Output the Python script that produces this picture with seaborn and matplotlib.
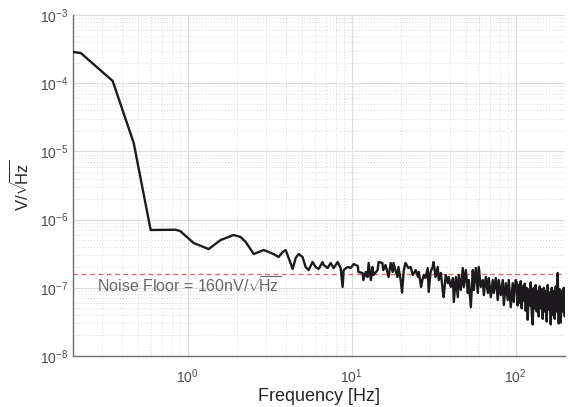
import numpy as np
import pandas as pd
import seaborn as sns
import matplotlib.pyplot as plt
from matplotlib.ticker import LogLocator, NullFormatter

# spectrum (Hz, V/sqrt(Hz))
freq_low = [0.20, 0.223, 0.349, 0.469, 0.595, 0.845, 0.90, 1.088, 1.343, 1.59, 1.908,
            2.10, 2.26, 2.53, 2.71, 2.91, 3.12, 3.34, 3.59, 3.80, 3.96, 4.13, 4.37,
            4.56, 4.75, 5.02, 5.24, 5.47, 5.78, 6.03, 6.29, 6.65, 6.75, 7.14, 7.45,
            7.77, 8.22, 8.57, 8.81, 8.94, 9.45, 9.86]
asd_low = [2.87e-4, 2.77e-4, 1.08e-4, 1.33e-5, 7.04e-7, 7.1e-7, 6.8e-7, 4.54e-7, 3.7e-7,
           5.02e-7, 5.94e-7, 5.56e-7, 4.70e-7, 3.13e-7, 3.35e-7, 3.58e-7, 3.35e-7,
           3.13e-7, 2.83e-7, 3.35e-7, 3.58e-7, 2.74e-7, 1.89e-7, 2.74e-7, 3.13e-7,
           2.83e-7, 2.02e-7, 1.82e-7, 2.39e-7, 2.02e-7, 1.89e-7, 2.39e-7, 2.16e-7,
           1.95e-7, 2.31e-7, 1.95e-7, 2.39e-7, 1.95e-7, 1.03e-7, 1.82e-7, 2.02e-7,
           1.95e-7]

freq_mid = [10.3, 10.9, 11.0, 11.65, 11.8, 12.2, 12.5, 12.7, 13.1, 13.4, 13.6, 14.4,
            14.6, 15.4, 15.6, 16.1, 16.8, 17.3, 17.8, 18.0, 19.0, 19.3, 19.9, 20.3,
            20.8, 21.3, 22.2, 22.9, 23.6, 24.6, 25.4, 25.7, 26.5, 27.0, 27.5, 28.2,
            29.1, 29.5, 30.3, 31.2, 31.6, 32.5, 33.5, 34.0, 35.0, 35.9, 36.4, 37.5,
            38.6, 39.1, 40.2, 41.4, 42.0, 43.2, 44.4, 45.0, 46.3, 47.6, 48.3, 49.7,
            51.1, 51.8, 53.3, 54.8, 55.6, 57.2, 58.8, 59.6, 61.3, 63.1, 64.0, 65.8,
            67.7, 68.6, 70.6, 72.6, 73.6, 75.7, 77.8, 78.9, 81.2, 83.5, 84.7, 87.1,
            89.5, 90.8, 93.4, 96.0, 97.4, 100.1]
asd_mid = [2.23e-7, 2.09e-7, 1.71e-7, 1.65e-7, 1.30e-7, 1.71e-7, 1.44e-7, 2.31e-7,
           1.30e-7, 2.02e-7, 1.54e-7, 1.82e-7, 2.39e-7, 2.31e-7, 1.82e-7, 2.16e-7,
           1.44e-7, 2.31e-7, 1.71e-7, 2.31e-7, 1.44e-7, 2.02e-7, 1.30e-7, 8.5e-8,
           1.82e-7, 2.31e-7, 1.95e-7, 2.02e-7, 1.54e-7, 1.82e-7, 1.44e-7, 1.71e-7,
           1.03e-7, 1.30e-7, 1.54e-7, 1.39e-7, 1.95e-7, 8.7e-8, 1.71e-7, 2.02e-7,
           2.39e-7, 1.44e-7, 2.02e-7, 1.30e-7, 1.65e-7, 9.3e-8, 7.3e-8, 1.54e-7,
           1.17e-7, 1.44e-7, 1.03e-7, 1.39e-7, 6.2e-8, 1.44e-7, 7.3e-8, 1.54e-7,
           9.3e-8, 1.95e-7, 1.03e-7, 1.82e-7, 8.4e-8, 1.30e-7, 5.2e-8, 1.82e-7,
           9.3e-8, 1.95e-7, 8.4e-8, 2.02e-7, 1.03e-7, 1.30e-7, 7.8e-8, 1.44e-7,
           8.4e-8, 1.39e-7, 7.3e-8, 1.30e-7, 8.4e-8, 1.39e-7, 6.6e-8, 1.30e-7,
           7.8e-8, 1.30e-7, 5.6e-8, 1.17e-7, 6.6e-8, 1.30e-7, 5.2e-8, 1.17e-7,
           6.2e-8, 1.30e-7]

freq_high = [101.5, 102.9, 104.4, 105.9, 107.4, 108.9, 110.4, 112.0, 113.6, 115.2,
             116.8, 118.5, 120.1, 121.8, 123.6, 125.3, 127.1, 128.9, 130.7, 132.6,
             134.4, 136.3, 138.3, 140.2, 142.2, 144.2, 146.3, 148.3, 150.4, 152.6,
             154.7, 156.9, 159.1, 161.4, 163.7, 166.0, 168.3, 170.7, 173.1, 175.6,
             178.1, 180.6, 183.1, 185.7, 188.4, 191.0, 193.7, 196.5, 199.3, 200.0]
asd_high = [1.2e-7, 5.5e-8, 1.1e-7, 6.0e-8, 1.25e-7, 5.0e-8, 1.05e-7, 6.5e-8, 1.15e-7,
            4.6e-8, 1.0e-7, 3.4e-8, 9.5e-8, 5.5e-8, 1.2e-7, 4.2e-8, 2.9e-8, 1.0e-7,
            5.0e-8, 1.1e-7, 4.5e-8, 9.0e-8, 3.8e-8, 1.05e-7, 5.0e-8, 9.5e-8, 3.5e-8,
            1.0e-7, 4.5e-8, 9.0e-8, 3.2e-8, 1.1e-7, 4.8e-8, 8.5e-8, 2.9e-8, 1.0e-7,
            4.0e-8, 9.0e-8, 3.5e-8, 1.05e-7, 4.5e-8, 1.65e-7, 3.0e-8, 9.5e-8, 3.1e-8,
            9.0e-8, 4.5e-8, 1.0e-7, 3.8e-8, 9.0e-8]

noise_floor = 160e-9

df = pd.DataFrame({
    'f': freq_low + freq_mid + freq_high,
    'asd': asd_low + asd_mid + asd_high,
})

sns.set_style('white')
plt.rcParams['font.family'] = ['Liberation Sans', 'DejaVu Sans']
plt.rcParams['mathtext.fontset'] = 'custom'
plt.rcParams['mathtext.rm'] = 'Liberation Sans'
plt.rcParams['mathtext.it'] = 'Liberation Sans:italic'
plt.rcParams['mathtext.bf'] = 'Liberation Sans:bold'

fig = plt.figure(figsize=(5.7, 4.07), dpi=100)
ax = fig.add_axes([73 / 570, 51 / 407, 492 / 570, 341 / 407])

sns.lineplot(data=df, x='f', y='asd', ax=ax, color='#1c1a1c', linewidth=1.7,
             estimator=None, sort=False, zorder=3)
ax.axhline(noise_floor, color='#de6b6b', linestyle=(0, (3.5, 2.5)), linewidth=1.0, zorder=2)

ax.set_xscale('log')
ax.set_yscale('log')
ax.set_xlim(0.2, 200)
ax.set_ylim(1e-8, 1e-3)

ax.xaxis.set_major_locator(LogLocator(base=10, numticks=10))
ax.xaxis.set_minor_locator(LogLocator(base=10, subs=np.arange(2, 10), numticks=20))
ax.yaxis.set_major_locator(LogLocator(base=10, numticks=10))
ax.yaxis.set_minor_locator(LogLocator(base=10, subs=np.arange(2, 10), numticks=20))
ax.xaxis.set_minor_formatter(NullFormatter())
ax.yaxis.set_minor_formatter(NullFormatter())

ax.grid(which='major', color='#dcdcdc', linewidth=0.8, linestyle='-')
ax.grid(which='minor', color='#d6d6d6', linewidth=0.7, linestyle=(0, (1, 2)))

for side in ['top', 'right']:
    ax.spines[side].set_visible(False)
for side in ['left', 'bottom']:
    ax.spines[side].set_color('#6e6e6e')
    ax.spines[side].set_linewidth(1.0)

ax.tick_params(which='both', direction='in', colors='#6e6e6e', labelcolor='#4a4a4a',
               labelsize=10)
ax.tick_params(which='major', length=5, width=0.8)
ax.tick_params(which='minor', length=3, width=0.7)
ax.tick_params(axis='x', pad=8)

ax.set_xlabel('Frequency [Hz]', fontsize=13, color='#262626', labelpad=2)
ax.set_ylabel(r'V/$\sqrt{\!\!\mathrm{Hz}}$', fontsize=12, color='#262626', labelpad=6)

ax.text(0.28, 1.06e-7, r'Noise Floor = 160nV/$\sqrt{\!\!\mathrm{Hz}}$', fontsize=11.5,
        color='#666666', va='center', ha='left', zorder=4)

fig.savefig('out.png', dpi=100)
